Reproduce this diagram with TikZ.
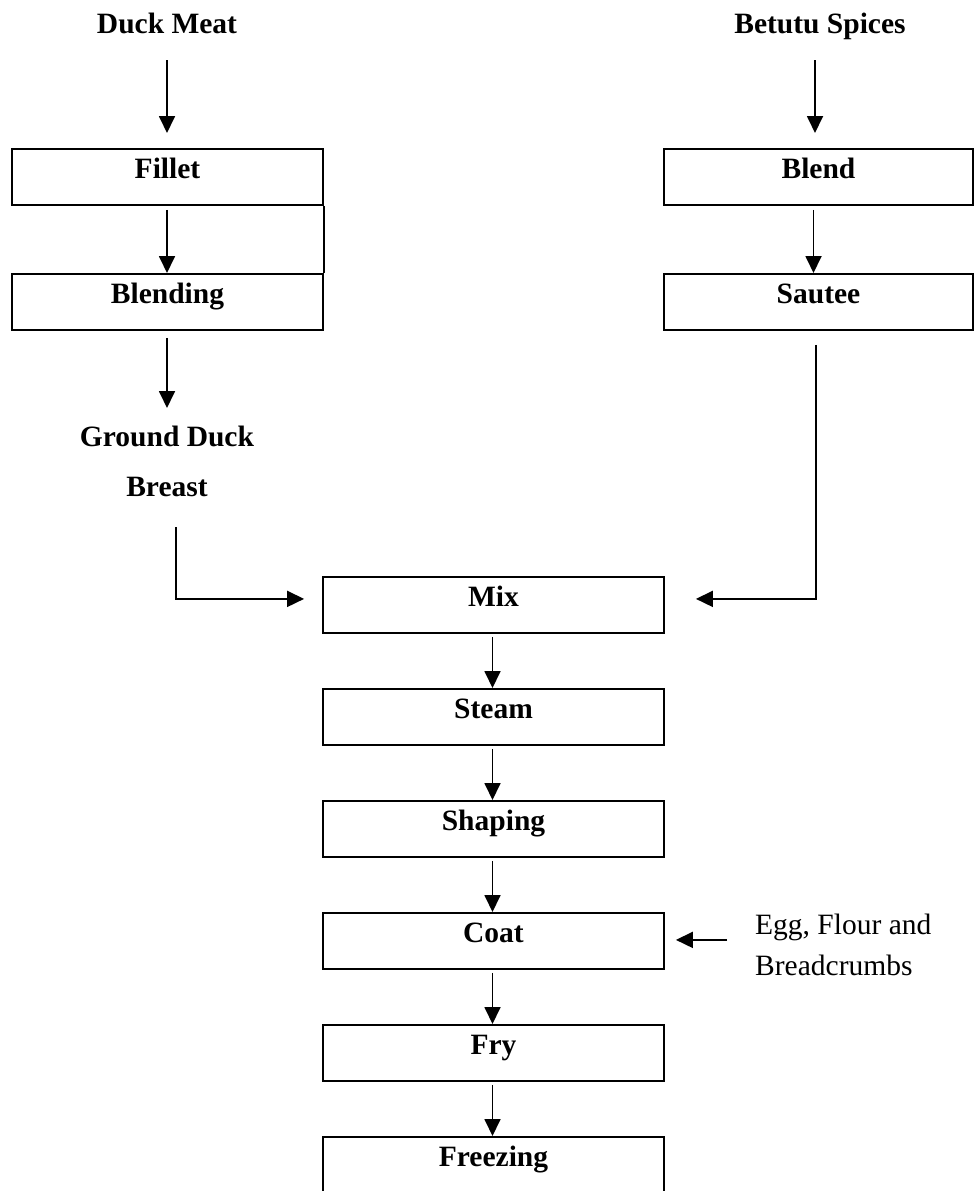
\documentclass[tikz,border=0pt]{standalone}
\usepackage{fontspec}
\setmainfont{Liberation Serif}
\usetikzlibrary{arrows.meta,calc}
\begin{document}
\begin{tikzpicture}[x=1pt,y=-1pt,
 box/.style={draw,line width=1.8pt,inner xsep=0pt,inner ysep=0pt,text height=30pt,text depth=26pt,anchor=north,font=\bfseries\fontsize{29.5}{35}\selectfont},
 lbl/.style={inner sep=0pt,font=\bfseries\fontsize{29.5}{35}\selectfont,align=center},
 arr/.style={line width=1.8pt,-{Triangle[width=16pt,length=17pt]}},
 ln/.style={line width=1.8pt}]
\useasboundingbox (0,0) rectangle (974,1191);
% top labels
\node[lbl,anchor=base] (duck) at (167,33) {Duck Meat};
\node[lbl,anchor=base] (spice) at (820,33) {Betutu Spices};
% left column
\node[box,minimum width=311pt] (fillet) at (167.5,148) {Fillet};
\node[box,minimum width=311pt] (blending) at (167.5,273) {Blending};
\node[lbl,font=\bfseries\fontsize{29.5}{50}\selectfont] (gdb) at (167,461) {Ground Duck\\Breast};
% right column
\node[box,minimum width=309pt] (blend) at (818.5,148) {Blend};
\node[box,minimum width=309pt] (sautee) at (818.5,273) {Sautee};
% main column
\node[box,minimum width=341pt] (mix) at (493.5,576) {Mix};
\node[box,minimum width=341pt] (steam) at (493.5,688) {Steam};
\node[box,minimum width=341pt] (shaping) at (493.5,800) {Shaping};
\node[box,minimum width=341pt] (coat) at (493.5,912) {Coat};
\node[box,minimum width=341pt] (fry) at (493.5,1024) {Fry};
\node[box,minimum width=341pt] (freezing) at (493.5,1136) {Freezing};
\node[anchor=west,inner sep=0pt,align=left,font=\fontsize{29.5}{41}\selectfont] (egg) at (755,944.5) {Egg, Flour and\\Breadcrumbs};
% connectors left
\draw[arr] ($(duck.base)+(0,27)$) -- ($(fillet.north)+(-0.5,-15)$);
\draw[arr] ($(fillet.south)+(-0.5,4)$) -- ($(blending.north)+(-0.5,0)$);
\draw[ln] (fillet.south east) -- (blending.north east);
\draw[arr] ($(blending.south)+(-0.5,7)$) -- ($(gdb)+(0,-53)$);
\draw[arr] ($(gdb)+(9,66)$) |- ($(mix.west)+(-18,-6)$);
% connectors right
\draw[arr] ($(spice.base)+(-5,27)$) -- ($(blend.north)+(-3.5,-15)$);
\draw[arr] ($(blend.south)+(-5,4)$) -- ($(sautee.north)+(-5,0)$);
\draw[arr] ($(sautee.south)+(-2.5,14)$) |- ($(mix.east)+(31,-6)$);
% main column connectors
\draw[arr] ($(mix.south)+(-1,3)$) -- ($(steam.north)+(-1,0)$);
\draw[arr] ($(steam.south)+(-1,3)$) -- ($(shaping.north)+(-1,0)$);
\draw[arr] ($(shaping.south)+(-1,3)$) -- ($(coat.north)+(-1,0)$);
\draw[arr] ($(coat.south)+(-1,3)$) -- ($(fry.north)+(-1,0)$);
\draw[arr] ($(fry.south)+(-1,3)$) -- ($(freezing.north)+(-1,0)$);
\draw[arr] ($(egg.west |- coat.east)+(-28,-1)$) -- ($(coat.east)+(11,-1)$);
\end{tikzpicture}
\end{document}
